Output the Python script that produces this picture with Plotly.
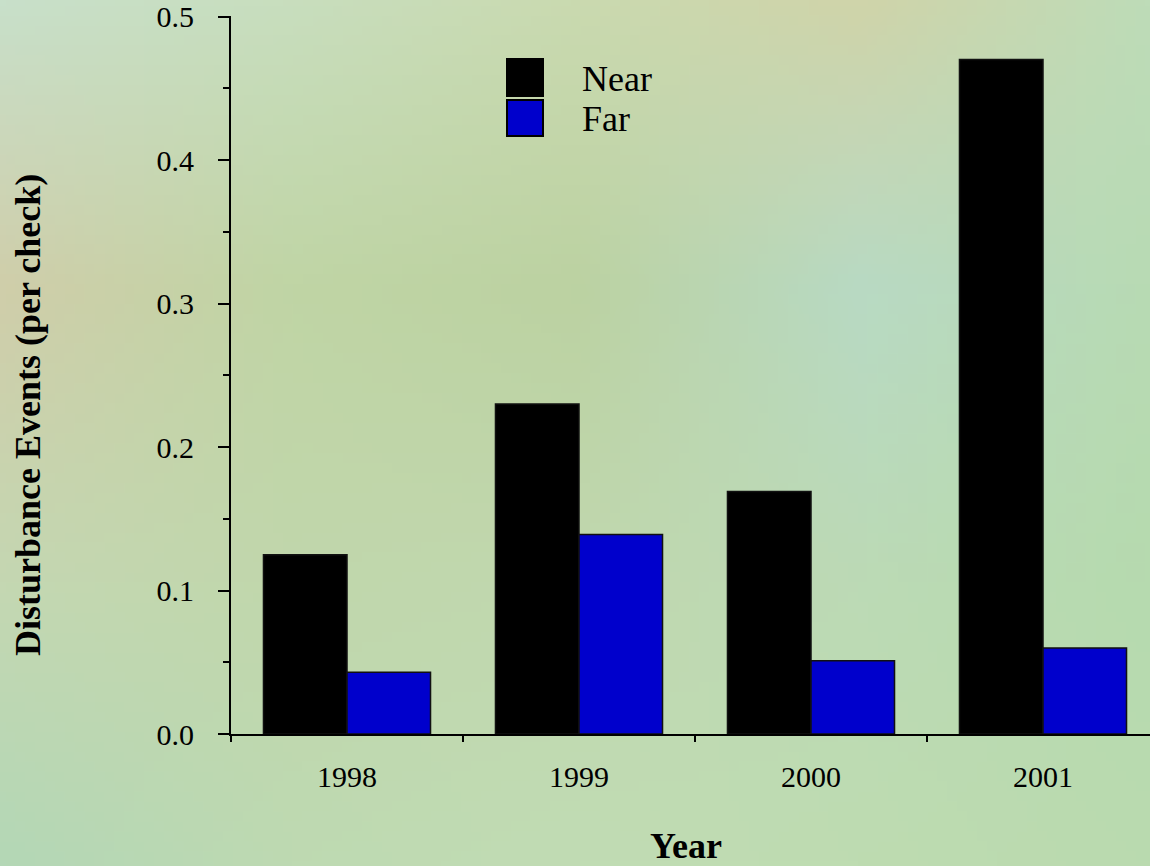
import base64, struct, zlib
import numpy as np
import plotly.graph_objects as go

# ---------------- data ----------------
years = ["1998", "1999", "2000", "2001"]
series_names = ["Near", "Far"]
near_values = [0.125, 0.230, 0.169, 0.470]
far_values = [0.043, 0.139, 0.051, 0.060]
series_colors = ["#000000", "#0000cc"]
y_tick_values = [0.0, 0.1, 0.2, 0.3, 0.4, 0.5]
y_tick_labels = ["0.0", "0.1", "0.2", "0.3", "0.4", "0.5"]
x_title = "Year"
y_title = "Disturbance Events (per check)"

# ---------------- geometry ----------------
W, H = 1150, 866
ML, MR, MT, MB = 231, 0, 16, 132
PW, PH = W - ML - MR, H - MT - MB
CAT_PX = 232.0  # pixel width of one category


def px2x(px):
    return (px - ML) / PW


def py2y(py):
    return (H - MB - py) / PH


# ---------------- soft textured-looking background ----------------
def make_png(arr):
    h, w, _ = arr.shape
    raw = b"".join(b"\x00" + arr[i].astype(np.uint8).tobytes() for i in range(h))

    def chunk(tag, data):
        c = struct.pack(">I", len(data)) + tag + data
        return c + struct.pack(">I", zlib.crc32(tag + data) & 0xFFFFFFFF)

    png = b"\x89PNG\r\n\x1a\n"
    png += chunk(b"IHDR", struct.pack(">IIBBBBB", w, h, 8, 2, 0, 0, 0))
    png += chunk(b"IDAT", zlib.compress(raw, 9))
    png += chunk(b"IEND", b"")
    return "data:image/png;base64," + base64.b64encode(png).decode()


grid = np.array([
    [(200, 224, 202), (200, 222, 190), (202, 218, 176), (208, 212, 170), (190, 220, 184)],
    [(208, 206, 170), (192, 213, 165), (188, 210, 162), (184, 218, 196), (184, 218, 180)],
    [(197, 215, 178), (193, 215, 172), (193, 216, 175), (188, 218, 182), (182, 218, 175)],
    [(180, 215, 182), (190, 218, 178), (193, 220, 180), (190, 220, 177), (186, 218, 175)],
], dtype=float)
gh, gw = 87, 116
gy = np.linspace(0, grid.shape[0] - 1, gh)
gx = np.linspace(0, grid.shape[1] - 1, gw)
y0 = np.clip(np.floor(gy).astype(int), 0, grid.shape[0] - 2)
x0 = np.clip(np.floor(gx).astype(int), 0, grid.shape[1] - 2)
fy = (gy - y0)[:, None, None]
fx = (gx - x0)[None, :, None]
a = grid[y0][:, x0]
b = grid[y0][:, x0 + 1]
c = grid[y0 + 1][:, x0]
d = grid[y0 + 1][:, x0 + 1]
img = (a * (1 - fx) * (1 - fy) + b * fx * (1 - fy) + c * (1 - fx) * fy + d * fx * fy)
bg_uri = make_png(np.clip(img, 0, 255))

# ---------------- figure ----------------
FONT = "Liberation Serif"
fig = go.Figure()
for name, vals, col in zip(series_names, [near_values, far_values], series_colors):
    fig.add_trace(go.Bar(
        x=years, y=vals, name=name,
        marker=dict(color=col, line=dict(color="#111111", width=1.5)),
        showlegend=False,
    ))

# manual legend (large square swatches)
shapes = []
annotations = []
sw_x0, sw_x1 = 507, 543
sw_rows = [(59, 96), (100, 136)]
for (ya, yb), name, col in zip(sw_rows, series_names, series_colors):
    shapes.append(dict(type="rect", xref="paper", yref="paper",
                       x0=px2x(sw_x0), x1=px2x(sw_x1), y0=py2y(yb), y1=py2y(ya),
                       fillcolor=col, line=dict(color="#000000", width=2), layer="above"))
    annotations.append(dict(xref="paper", yref="paper", x=px2x(580), y=py2y((ya + yb) / 2 + 1),
                            xanchor="left", yanchor="middle", showarrow=False, text=name,
                            font=dict(family=FONT, size=36, color="black")))

# axis titles as annotations for precise placement
annotations.append(dict(xref="paper", yref="paper", x=px2x(686), y=py2y(846),
                        xanchor="center", yanchor="middle", showarrow=False,
                        text="<b>" + x_title + "</b>",
                        font=dict(family=FONT, size=36, color="black")))
annotations.append(dict(xref="paper", yref="paper", x=px2x(28), y=py2y(415),
                        xanchor="center", yanchor="middle", showarrow=False, textangle=-90,
                        text="<b>" + y_title + "</b>",
                        font=dict(family=FONT, size=36, color="black")))

fig.update_layout(
    width=W, height=H,
    margin=dict(l=ML, r=MR, t=MT, b=MB, pad=0),
    paper_bgcolor="rgb(194,216,178)",
    plot_bgcolor="rgba(0,0,0,0)",
    barmode="group", bargap=0.28, bargroupgap=0,
    font=dict(family=FONT, color="black"),
    shapes=shapes, annotations=annotations,
    images=[dict(source=bg_uri, xref="paper", yref="paper",
                 x=px2x(0), y=py2y(0), sizex=W / PW, sizey=H / PH,
                 xanchor="left", yanchor="top", sizing="stretch", layer="below")],
    xaxis=dict(
        type="category", categoryorder="array", categoryarray=years,
        range=[-0.5, -0.5 + PW / CAT_PX],
        tickson="boundaries", ticks="outside", ticklen=6, tickwidth=2, tickcolor="black",
        showline=True, linecolor="black", linewidth=2, showgrid=False, zeroline=False,
        tickfont=dict(family=FONT, size=30, color="black"),
        ticklabelstandoff=15,
    ),
    yaxis=dict(
        range=[0, 0.5004], tickvals=y_tick_values, ticktext=y_tick_labels,
        ticks="outside", ticklen=11, tickwidth=2, tickcolor="black",
        minor=dict(dtick=0.05, ticks="outside", ticklen=6, tickwidth=2, tickcolor="black", showgrid=False),
        showline=True, linecolor="black", linewidth=2, showgrid=False, zeroline=False,
        tickfont=dict(family=FONT, size=30, color="black"),
        ticklabelstandoff=18,
    ),
)

fig.write_html("out.html", config={"displayModeBar": False},
               post_script="document.body.style.margin='0';document.body.style.overflow='hidden';")
